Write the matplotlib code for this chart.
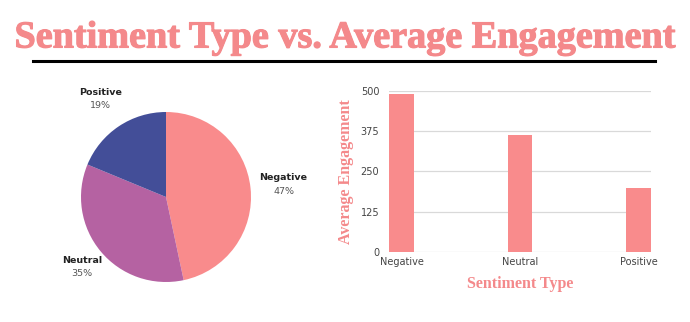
import matplotlib
matplotlib.use("Agg")
import matplotlib.pyplot as plt
import matplotlib.patheffects as pe
import numpy as np

categories = ["Negative", "Neutral", "Positive"]
avg_engagement = [490, 363, 197]
yticks = [0, 125, 250, 375, 500]

pie_colors = ["#F98B8C", "#B562A2", "#434E98"]
bar_color = "#F98B8C"
title_color = "#F4898B"

W, H = 690, 322
fig = plt.figure(figsize=(W / 100, H / 100), dpi=100)
fig.patch.set_facecolor("white")

def fx(px):
    return px / W

def fy(py):
    return 1 - py / H

# Title
fig.text(0.5, fy(38), "Sentiment Type vs. Average Engagement", ha="center", va="center",
         fontsize=27.5, fontweight="bold", family="Liberation Serif", color=title_color,
         path_effects=[pe.Stroke(linewidth=0.8, foreground=title_color), pe.Normal()])
fig.add_artist(plt.Line2D([fx(33), fx(655)], [fy(61), fy(61)], color="black", lw=2.2))

# Pie
cx, cy, r = 166, 197, 85
half = 100
ax_p = fig.add_axes([fx(cx - half), fy(cy + half), 2 * half / W, 2 * half / H])
wedges, _ = ax_p.pie(avg_engagement, colors=pie_colors, startangle=90, counterclock=False,
                     radius=1, wedgeprops=dict(linewidth=0))
lim = half / r
ax_p.set_xlim(-lim, lim)
ax_p.set_ylim(-lim, lim)
ax_p.set_aspect("equal")
ax_p.axis("off")
total = sum(avg_engagement)
dists = [1.39, 1.29, 1.39]
for w, name, v, d in zip(wedges, categories, avg_engagement, dists):
    ang = np.deg2rad((w.theta1 + w.theta2) / 2)
    x, y = d * np.cos(ang), d * np.sin(ang)
    ax_p.annotate(name, (x, y), xytext=(0, 4.8), textcoords="offset points", ha="center",
                  va="center", fontsize=6.8, fontweight="bold", color="#222222",
                  family="DejaVu Sans", annotation_clip=False)
    ax_p.annotate(f"{round(v / total * 100)}%", (x, y), xytext=(0, -4.8), textcoords="offset points",
                  ha="center", va="center", fontsize=6.8, color="#555555",
                  family="DejaVu Sans", annotation_clip=False)

# Bar chart
left, right, top, bottom = 389, 651, 91, 251.7
ax_b = fig.add_axes([fx(left), fy(bottom), (right - left) / W, (bottom - top) / H])
x = np.arange(len(categories))
bw = 0.21
ax_b.bar(x, avg_engagement, width=bw, color=bar_color, zorder=3)
ax_b.set_xlim(-bw / 2, len(categories) - 1 + bw / 2)
ax_b.set_ylim(0, 500)
ax_b.set_yticks(yticks)
ax_b.set_xticks(x)
ax_b.set_xticklabels(categories)
ax_b.grid(axis="y", color="#d9d9d9", lw=0.9, zorder=0)
for s in ax_b.spines.values():
    s.set_visible(False)
ax_b.tick_params(length=0, labelsize=7, colors="#444444", pad=4)
ax_b.tick_params(axis="y", pad=7)
ax_b.set_xlabel("Sentiment Type", fontsize=11.5, fontweight="bold", family="Liberation Serif",
                color=title_color, labelpad=6)
ax_b.set_ylabel("Average Engagement", fontsize=11.5, fontweight="bold", family="Liberation Serif",
                color=title_color, labelpad=5)

fig.savefig("out.png", dpi=100, facecolor="white")
